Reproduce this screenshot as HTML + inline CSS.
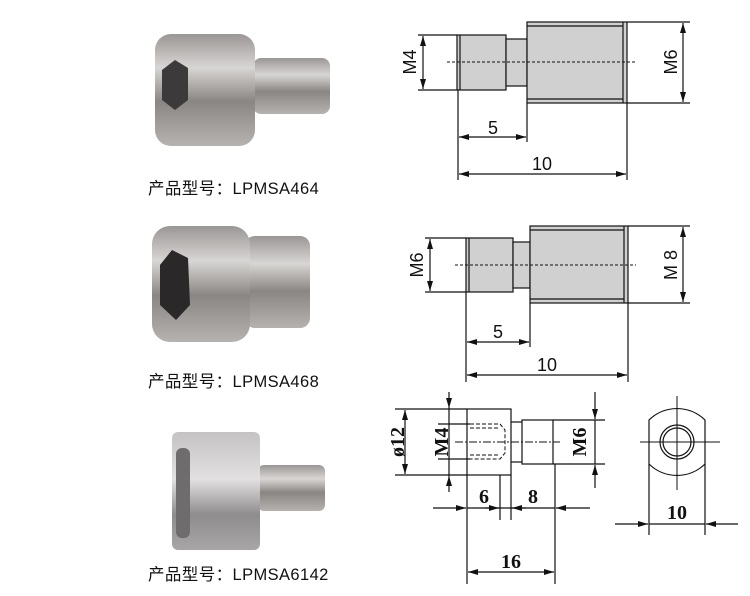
<!DOCTYPE html>
<html><head><meta charset="utf-8"><style>
body{margin:0;background:#fff;width:750px;height:596px;overflow:hidden}
svg{display:block}
.lbl{font-family:"Liberation Sans","Noto Sans CJK SC",sans-serif;font-size:16.5px;fill:#111;letter-spacing:0.4px}
.d{font-family:"Liberation Sans",sans-serif;font-size:18px;fill:#111}
.s{font-family:"Liberation Serif",serif;font-size:20px;font-weight:bold;fill:#111}
</style></head><body>
<svg width="750" height="596" viewBox="0 0 750 596" xmlns="http://www.w3.org/2000/svg">
<defs>
<linearGradient id="m" x1="0" y1="0" x2="0" y2="1">
<stop offset="0" stop-color="#9a9695"/><stop offset="0.3" stop-color="#d8d6d4"/><stop offset="0.6" stop-color="#8a8684"/><stop offset="1" stop-color="#b5b2b0"/></linearGradient>
<linearGradient id="m2" x1="0" y1="0" x2="0" y2="1">
<stop offset="0" stop-color="#c4c2c2"/><stop offset="0.4" stop-color="#e2e0e0"/><stop offset="0.7" stop-color="#8e8c8c"/><stop offset="1" stop-color="#a8a6a6"/></linearGradient>
<marker id="a" viewBox="0 0 10 6" refX="10" refY="3" markerWidth="10" markerHeight="6" orient="auto-start-reverse" markerUnits="userSpaceOnUse"><path d="M0,0L10,3L0,6z" fill="#111"/></marker>
</defs>
<!-- photos -->
<rect x="253" y="58" width="77" height="56" rx="8" fill="url(#m)"/>
<rect x="155" y="34" width="100" height="112" rx="16" fill="url(#m)"/>
<polygon points="162,70 175,60 188,68 188,100 175,110 162,100" fill="#3c3a3a"/>
<rect x="245" y="236" width="65" height="92" rx="10" fill="url(#m)"/>
<rect x="152" y="226" width="98" height="116" rx="18" fill="url(#m)"/>
<polygon points="160,265 172,250 188,258 190,305 176,320 160,305" fill="#2a2828"/>
<rect x="258" y="465" width="67" height="46" rx="6" fill="url(#m)"/>
<rect x="172" y="432" width="88" height="118" rx="6" fill="url(#m2)"/>
<rect x="176" y="448" width="14" height="90" rx="6" fill="#6e6c6c"/>
<text class="lbl" x="148" y="194">产品型号：LPMSA464</text>
<text class="lbl" x="148" y="387">产品型号：LPMSA468</text>
<text class="lbl" x="148" y="580">产品型号：LPMSA6142</text>

<g stroke="#111" stroke-width="1.2" fill="none">
<!-- drawing 1 -->
<rect x="457" y="35" width="49" height="55" fill="#d0d0d0"/>
<line x1="460" y1="35" x2="460" y2="90"/>
<rect x="506" y="39" width="21" height="47" fill="#d0d0d0"/>
<rect x="527" y="22" width="100" height="81" fill="#d0d0d0"/>
<line x1="527" y1="26" x2="623" y2="26"/><line x1="527" y1="99" x2="623" y2="99"/><line x1="623" y1="22" x2="623" y2="103"/>
<line x1="447" y1="62" x2="635" y2="62" stroke-dasharray="3,2" stroke-width="1"/>
<line x1="418" y1="35" x2="457" y2="35"/><line x1="418" y1="90" x2="457" y2="90"/>
<line x1="423" y1="36" x2="423" y2="89" marker-start="url(#a)" marker-end="url(#a)"/>
<line x1="627" y1="22" x2="690" y2="22"/><line x1="627" y1="103" x2="690" y2="103"/>
<line x1="683" y1="23" x2="683" y2="102" marker-start="url(#a)" marker-end="url(#a)"/>
<line x1="458" y1="90" x2="458" y2="180"/><line x1="527" y1="103" x2="527" y2="142"/><line x1="627" y1="103" x2="627" y2="180"/>
<line x1="459" y1="137" x2="526" y2="137" marker-start="url(#a)" marker-end="url(#a)"/>
<line x1="459" y1="174" x2="626" y2="174" marker-start="url(#a)" marker-end="url(#a)"/>
<!-- drawing 2 -->
<rect x="466" y="238" width="47" height="54" fill="#d0d0d0"/>
<line x1="469" y1="238" x2="469" y2="292"/>
<rect x="513" y="242" width="17" height="46" fill="#d0d0d0"/>
<rect x="530" y="226" width="98" height="77" fill="#d0d0d0"/>
<line x1="530" y1="230" x2="624" y2="230"/><line x1="530" y1="299" x2="624" y2="299"/><line x1="624" y1="226" x2="624" y2="303"/>
<line x1="455" y1="265" x2="636" y2="265" stroke-dasharray="3,2" stroke-width="1"/>
<line x1="425" y1="238" x2="466" y2="238"/><line x1="425" y1="292" x2="466" y2="292"/>
<line x1="430" y1="239" x2="430" y2="291" marker-start="url(#a)" marker-end="url(#a)"/>
<line x1="628" y1="226" x2="690" y2="226"/><line x1="628" y1="303" x2="690" y2="303"/>
<line x1="683" y1="227" x2="683" y2="302" marker-start="url(#a)" marker-end="url(#a)"/>
<line x1="466" y1="292" x2="466" y2="382"/><line x1="530" y1="303" x2="530" y2="347"/><line x1="628" y1="303" x2="628" y2="382"/>
<line x1="467" y1="342" x2="529" y2="342" marker-start="url(#a)" marker-end="url(#a)"/>
<line x1="467" y1="375" x2="627" y2="375" marker-start="url(#a)" marker-end="url(#a)"/>
<!-- drawing 3 -->
<rect x="467" y="409" width="44" height="66"/>
<rect x="522" y="420" width="31" height="44"/>
<line x1="511" y1="422" x2="522" y2="422"/><line x1="511" y1="462" x2="522" y2="462"/>
<path d="M470,424H500L505,430V453L500,459H470M470,428H500M470,455H500" stroke-dasharray="4,2" stroke-width="1"/>
<line x1="455" y1="442" x2="560" y2="442" stroke-dasharray="8,2,2,2" stroke-width="1"/>
<line x1="395" y1="409" x2="467" y2="409"/><line x1="395" y1="475" x2="467" y2="475"/>
<line x1="405" y1="410" x2="405" y2="474" marker-start="url(#a)" marker-end="url(#a)"/>
<line x1="438" y1="424" x2="470" y2="424"/><line x1="438" y1="459" x2="470" y2="459"/>
<line x1="449" y1="392" x2="449" y2="408" marker-end="url(#a)"/><line x1="449" y1="408" x2="449" y2="476"/><line x1="449" y1="492" x2="449" y2="476" marker-end="url(#a)"/>
<line x1="553" y1="420" x2="605" y2="420"/><line x1="553" y1="464" x2="605" y2="464"/>
<line x1="595" y1="392" x2="595" y2="419" marker-end="url(#a)"/><line x1="595" y1="488" x2="595" y2="465" marker-end="url(#a)"/><line x1="595" y1="420" x2="595" y2="464"/>
<line x1="467" y1="475" x2="467" y2="584"/><line x1="500" y1="475" x2="500" y2="520"/><line x1="511" y1="475" x2="511" y2="520"/><line x1="555" y1="464" x2="555" y2="584"/>
<line x1="433" y1="508" x2="466" y2="508" marker-end="url(#a)"/><line x1="467" y1="508" x2="555" y2="508"/>
<line x1="485" y1="508" x2="499" y2="508" marker-end="url(#a)"/><line x1="526" y1="508" x2="512" y2="508" marker-end="url(#a)"/>
<line x1="590" y1="508" x2="556" y2="508" marker-end="url(#a)"/>
<line x1="468" y1="572" x2="554" y2="572" marker-start="url(#a)" marker-end="url(#a)"/>
<!-- end view -->
<path d="M649,420A40,40 0 0 1 705,420V464A40,40 0 0 1 649,464Z"/>
<circle cx="677" cy="442" r="17"/><circle cx="677" cy="442" r="14"/>
<line x1="640" y1="442" x2="720" y2="442" stroke-width="1"/><line x1="677" y1="396" x2="677" y2="490" stroke-width="1"/>
<line x1="649" y1="464" x2="649" y2="535"/><line x1="705" y1="464" x2="705" y2="535"/>
<line x1="615" y1="524" x2="648" y2="524" marker-end="url(#a)"/><line x1="649" y1="524" x2="705" y2="524"/><line x1="738" y1="524" x2="706" y2="524" marker-end="url(#a)"/>
</g>
<text class="d" x="493" y="134" text-anchor="middle">5</text>
<text class="d" x="542" y="170" text-anchor="middle">10</text>
<text class="d" x="498" y="338" text-anchor="middle">5</text>
<text class="d" x="547" y="371" text-anchor="middle">10</text>
<text class="d" transform="translate(416,62) rotate(-90)" text-anchor="middle">M4</text>
<text class="d" transform="translate(677,62) rotate(-90)" text-anchor="middle">M6</text>
<text class="d" transform="translate(423,265) rotate(-90)" text-anchor="middle">M6</text>
<text class="d" transform="translate(677,265) rotate(-90)" text-anchor="middle">M 8</text>
<text class="s" transform="translate(404,442) rotate(-90)" text-anchor="middle">ø12</text>
<text class="s" transform="translate(448,442) rotate(-90)" text-anchor="middle">M4</text>
<text class="s" transform="translate(586,442) rotate(-90)" text-anchor="middle">M6</text>
<text class="s" x="484" y="503" text-anchor="middle">6</text>
<text class="s" x="533" y="503" text-anchor="middle">8</text>
<text class="s" x="511" y="568" text-anchor="middle">16</text>
<text class="s" x="677" y="519" text-anchor="middle">10</text>
</svg>
</body></html>
